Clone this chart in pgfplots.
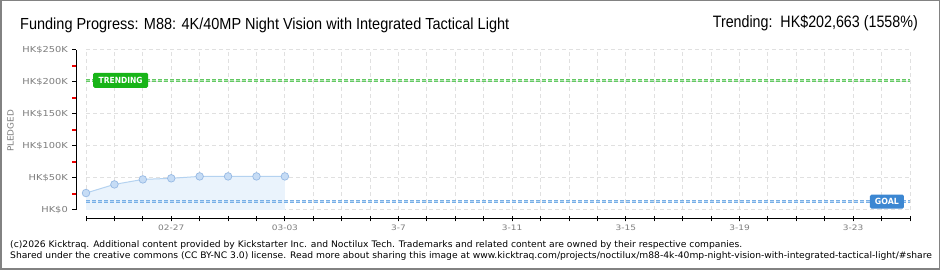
\documentclass[border=0pt]{standalone}
\usepackage{pgfplots}
\pgfplotsset{compat=1.18}
\usepackage{pgfplotstable}
\usepackage{graphicx}
\usepackage{fontspec}
\setmainfont{DejaVu Sans}
\newfontfamily\titlefont{Liberation Sans}
\definecolor{gridc}{RGB}{224,224,224}
\definecolor{labc}{RGB}{125,125,125}
\definecolor{trendc}{RGB}{100,200,100}
\definecolor{trendin}{RGB}{170,230,170}
\definecolor{trendbox}{RGB}{24,180,24}
\definecolor{goalc}{RGB}{120,175,230}
\definecolor{goalin}{RGB}{185,215,245}
\definecolor{goalbox}{RGB}{60,135,210}
\definecolor{linec}{RGB}{180,210,240}
\definecolor{fillc}{RGB}{234,243,252}
\definecolor{markfill}{RGB}{198,220,245}
\definecolor{markdraw}{RGB}{150,185,228}
\definecolor{footc}{RGB}{135,135,135}
\definecolor{framec}{RGB}{130,130,130}
\definecolor{redtick}{RGB}{235,0,0}
\pgfplotstableread{
day pledged
0 26500
1 40000
2 47800
3 49500
4 52500
5 52500
6 52500
7 52500
}\pledged
\newsavebox\fone
\newsavebox\ftwo
\newdimen\tmpd
\begin{document}%
\sbox\fone{\fontsize{9}{10}\selectfont (c)2026 Kicktraq. Additional content provided by Kickstarter Inc. and Noctilux Tech. Trademarks and related content are owned by their respective companies.}%
\sbox\ftwo{\fontsize{9}{10}\selectfont Shared under the creative commons (CC BY-NC 3.0) license. Read more about sharing this image at www.kicktraq.com/projects/noctilux/m88-4k-40mp-night-vision-with-integrated-tactical-light/\#share}%
\tmpd=\wd\fone
\pgfmathsetmacro\ffac{732/\tmpd}%
\begin{tikzpicture}[x=1pt,y=1pt]
\useasboundingbox (0,0) rectangle (940,270);
\fill[white] (0,0) rectangle (940,270);
% main plot area
\begin{axis}[at={(86pt,60pt)}, anchor=south west, scale only axis,
  width=824pt, height=160pt, xmin=0, xmax=29, ymin=0, ymax=250000,
  clip=false, axis line style={draw=none}, major tick length=0pt,
  xtick={0,...,29}, ytick={0,50000,...,250000},
  xticklabels={}, yticklabels={}, scaled y ticks=false,
  grid=major, grid style={gridc, line width=1pt, dash pattern=on 4pt off 3pt}]
\addplot[draw=none, fill=fillc] table {\pledged} \closedcycle;
\addplot[linec, line width=1pt, mark=*, mark size=3.8pt,
  mark options={fill=markfill, draw=markdraw, line width=0.7pt}] table {\pledged};
\addplot[goalc, line width=2.6pt, dash pattern=on 4pt off 2pt] coordinates {(0,13008) (29,13008)};
\addplot[goalin, line width=0.9pt, dash pattern=on 4pt off 2pt] coordinates {(0,13008) (29,13008)};
\addplot[trendc, line width=2.6pt, dash pattern=on 4pt off 2pt] coordinates {(0,202663) (29,202663)};
\addplot[trendin, line width=0.9pt, dash pattern=on 4pt off 2pt] coordinates {(0,202663) (29,202663)};
\node[fill=trendbox, text=white, rounded corners=1.5pt, minimum width=55pt, minimum height=15pt, inner sep=0pt]
  at (axis cs:1.22,202663) {\resizebox{44pt}{\height}{\bfseries\fontsize{8.5}{9}\selectfont TRENDING}};
\node[fill=goalbox, text=white, rounded corners=1.5pt, minimum width=34pt, minimum height=14pt, inner sep=0pt]
  at (axis cs:28.19,13008) {\resizebox{24pt}{\height}{\bfseries\fontsize{8.5}{9}\selectfont GOAL}};
\end{axis}
% red minor ticks on y axis
\begin{axis}[at={(76pt,60pt)}, anchor=south west, scale only axis,
  width=10pt, height=160pt, xmin=0, xmax=1, ymin=0, ymax=250000,
  axis x line=none, axis y line=left, y axis line style={draw=none},
  ytick={25000,75000,125000,175000,225000}, yticklabels={}, scaled y ticks=false,
  tick align=outside, major tick length=4pt,
  every tick/.style={draw=redtick, line width=1.2pt},
  every major tick/.style={draw=redtick, line width=1.2pt}]
\addplot[draw=none] coordinates {(0,0)};
\end{axis}
% y axis
\begin{axis}[at={(76pt,60pt)}, anchor=south west, scale only axis,
  width=10pt, height=160pt, xmin=0, xmax=1, ymin=0, ymax=250000,
  axis x line=none, axis y line=left, y axis line style={-, black, line width=1pt},
  ytick={0,50000,...,250000}, scaled y ticks=false,
  yticklabels={HK\$0,HK\$50K,HK\$100K,HK\$150K,HK\$200K,HK\$250K},
  tick align=outside, major tick length=4pt,
  major tick style={black, line width=1pt},
  yticklabel style={font=\fontsize{8.2}{9}\selectfont, text=labc, xscale=1.2, anchor=east}]
\addplot[draw=none] coordinates {(0,0)};
\end{axis}
% x axis
\begin{axis}[at={(86pt,51pt)}, anchor=south west, scale only axis,
  width=824pt, height=10pt, xmin=0, xmax=29, ymin=0, ymax=1,
  axis y line=none, axis x line=bottom, x axis line style={-, black, line width=1pt},
  xtick={0,...,29}, xticklabels={},
  extra x ticks={3,7,11,15,19,23,27},
  extra x tick labels={02-27,03-03,3-7,3-11,3-15,3-19,3-23},
  tick align=center, major tick length=5pt, major tick style={black, line width=1pt},
  xticklabel style={font=\fontsize{7.5}{8}\selectfont, text=labc, xscale=1.2}]
\addplot[draw=none] coordinates {(0,0)};
\end{axis}
% titles
\node[anchor=base west, inner sep=0pt] at (20,240) {\resizebox{489pt}{\height}{\titlefont\fontsize{16}{18}\selectfont Funding Progress: M88: 4K/40MP Night Vision with Integrated Tactical Light}};
\node[anchor=base east, inner sep=0pt] at (918,242.5) {\resizebox{205pt}{\height}{\titlefont\fontsize{16.5}{18}\selectfont Trending:\ \ HK\$202,663 (1558\%)}};
% y label
\node[rotate=90, text=labc, inner sep=0pt] at (10.5,139) {\resizebox{42pt}{\height}{\fontsize{8.5}{9}\selectfont PLEDGED}};
% footer
\begin{scope}
\clip (0,0) rectangle (940,270);
\node[anchor=base west, inner sep=0pt, text=footc] at (10,22.5) {\scalebox{\ffac}[1]{\usebox\fone}};
\node[anchor=base west, inner sep=0pt, text=footc] at (10,11) {\scalebox{\ffac}[1]{\usebox\ftwo}};
\end{scope}
\draw[framec, line width=1.5pt] (0.75,0.75) rectangle (939.25,269.25);
\end{tikzpicture}%
\end{document}
